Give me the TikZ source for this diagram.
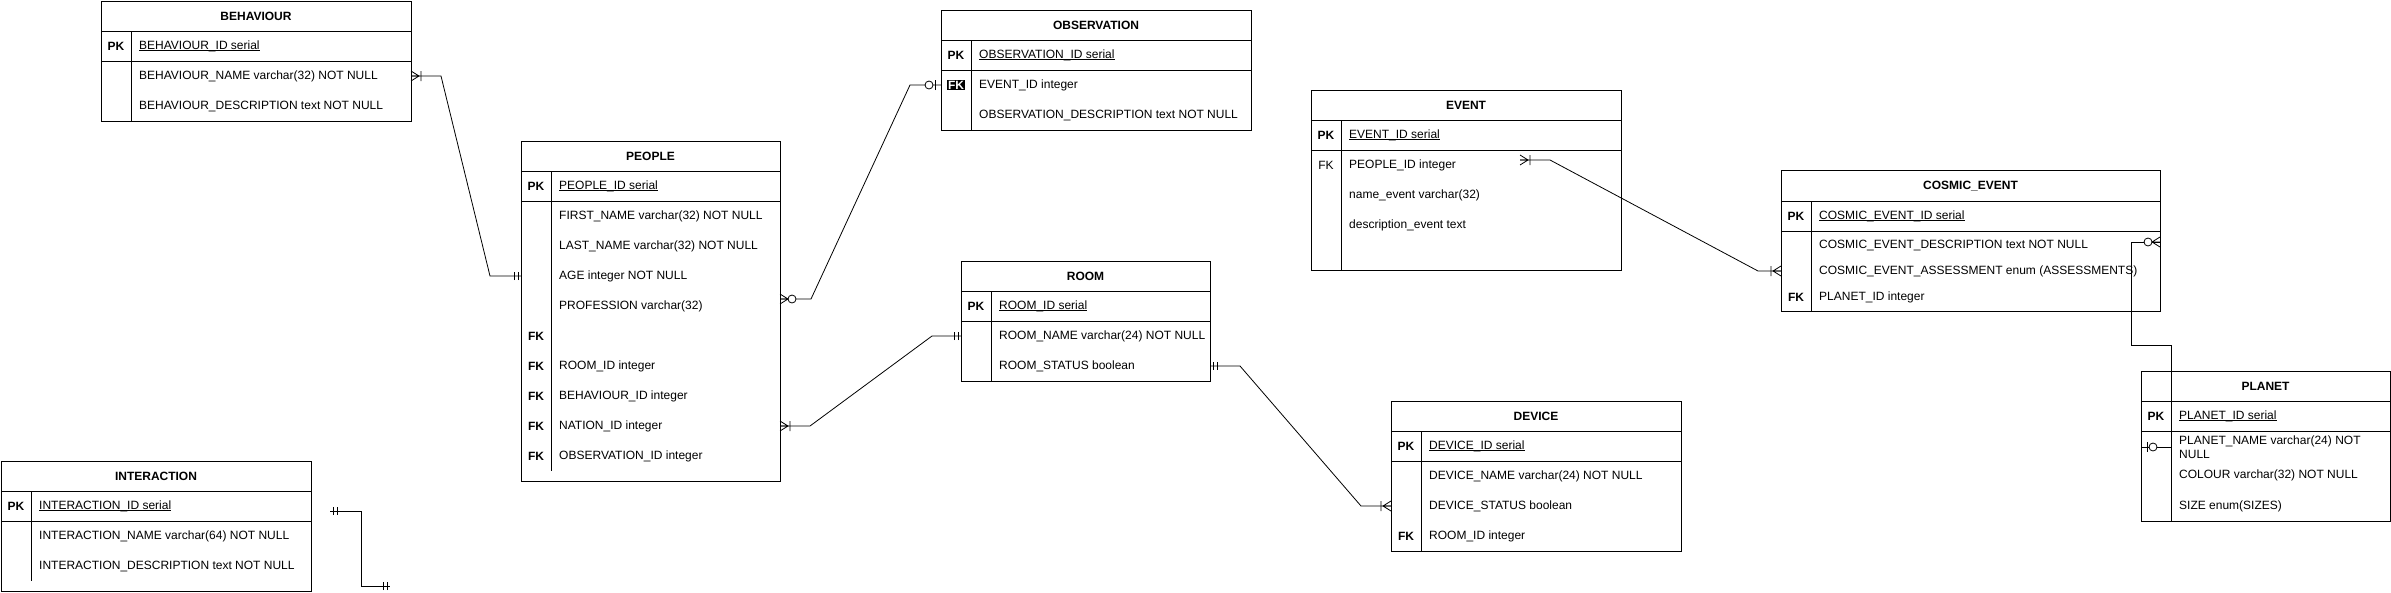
\documentclass[tikz,border=0pt]{standalone}
\usepackage{fontspec}
\setmainfont{Liberation Sans}
\usepackage{tikz}
\usepackage{xcolor}
\usetikzlibrary{arrows.meta,positioning,calc}
\definecolor{ink}{HTML}{000000}
\definecolor{paper}{HTML}{FFFFFF}
\newsavebox{\pkbox}
\newcommand{\pkline}[1]{\sbox{\pkbox}{#1}\rlap{\rule[-2pt]{\wd\pkbox}{0.8pt}}\usebox{\pkbox}}
\tikzset{
  tblbox/.style={draw=ink, line width=1pt, inner sep=0pt, outer sep=0pt, anchor=north west},
  tblline/.style={draw=ink, line width=1pt},
  ttl/.style={font=\fontsize{12}{14}\selectfont\bfseries, inner sep=0pt},
  keylbl/.style={font=\fontsize{12}{14}\selectfont\bfseries, inner sep=0pt},
  fld/.style={font=\fontsize{12}{13.5}\selectfont, anchor=west, inner sep=0pt, align=left},
  rel/.style={draw=ink, line width=0.8pt},
  erone/.pic={\draw[rel] (3,-4) -- (3,4) (7,-4) -- (7,4);},
  eronemany/.pic={\draw[rel] (0,-5) -- (8,0) -- (0,5) (0,0) -- (8,0) (10,-5) -- (10,5);},
  erzeromany/.pic={\draw[rel] (0,-5) -- (8,0) -- (0,5) (0,0) -- (8,0);
                   \draw[rel, fill=paper] (12,0) circle[radius=4];},
  erzeroone/.pic={\draw[rel] (6,-5) -- (6,5);
                  \draw[rel, fill=paper] (12,0) circle[radius=4];}
}

\begin{document}
\begin{tikzpicture}[x=1pt,y=-1pt]
  \path[use as bounding box, fill=paper] (0,0) rectangle (2391,592);

  % BEHAVIOUR
  \node[tblbox, minimum width=310, minimum height=120] (behav) at (101,1) {};
  \draw[tblline] (101,31) -- (411,31) (101,61) -- (411,61) (131,31) -- (131,121);
  \node[ttl] (behav-ttl) at (256,16) {BEHAVIOUR};
  \node[keylbl] (behav-pk) at (116,46) {PK};
  \node[fld] (behav-id) at (139,46) {\pkline{BEHAVIOUR\_ID serial}};
  \node[fld] (behav-name) at (139,76) {BEHAVIOUR\_NAME varchar(32) NOT NULL};
  \node[fld] (behav-desc) at (139,106) {BEHAVIOUR\_DESCRIPTION text NOT NULL};

  % OBSERVATION
  \node[tblbox, minimum width=310, minimum height=120] (obs) at (941,10) {};
  \draw[tblline] (941,40) -- (1251,40) (941,70) -- (1251,70) (971,40) -- (971,130);
  \node[ttl] (obs-ttl) at (1096,25) {OBSERVATION};
  \node[keylbl] (obs-pk) at (956,55) {PK};
  \node[keylbl, fill=ink, text=paper, inner sep=1pt] (obs-fk) at (956,85) {FK};
  \node[fld] (obs-id) at (979,55) {\pkline{OBSERVATION\_ID serial}};
  \node[fld] (obs-event) at (979,85) {EVENT\_ID integer};
  \node[fld] (obs-desc) at (979,115) {OBSERVATION\_DESCRIPTION text NOT NULL};

  % PEOPLE
  \node[tblbox, minimum width=259, minimum height=340] (people) at (521,141) {};
  \draw[tblline] (521,171) -- (780,171) (521,201) -- (780,201) (551,171) -- (551,471);
  \node[ttl] (people-ttl) at (650.5,156) {PEOPLE};
  \node[keylbl] (people-pk) at (536,186) {PK};
  \node[fld] (people-id) at (559,186) {\pkline{PEOPLE\_ID serial}};
  \node[fld] (people-first) at (559,216) {FIRST\_NAME varchar(32) NOT NULL};
  \node[fld] (people-last) at (559,246) {LAST\_NAME varchar(32) NOT NULL};
  \node[fld] (people-age) at (559,276) {AGE integer NOT NULL};
  \node[fld] (people-prof) at (559,306) {PROFESSION varchar(32)};
  \node[keylbl] (people-fk1) at (536,336) {FK};
  \node[keylbl] (people-fk2) at (536,366) {FK};
  \node[fld] (people-room) at (559,366) {ROOM\_ID integer};
  \node[keylbl] (people-fk3) at (536,396) {FK};
  \node[fld] (people-behav) at (559,396) {BEHAVIOUR\_ID integer};
  \node[keylbl] (people-fk4) at (536,426) {FK};
  \node[fld] (people-nation) at (559,426) {NATION\_ID integer};
  \node[keylbl] (people-fk5) at (536,456) {FK};
  \node[fld] (people-obs) at (559,456) {OBSERVATION\_ID integer};

  % ROOM
  \node[tblbox, minimum width=249, minimum height=120] (room) at (961,261) {};
  \draw[tblline] (961,291) -- (1210,291) (961,321) -- (1210,321) (991,291) -- (991,381);
  \node[ttl] (room-ttl) at (1085.5,276) {ROOM};
  \node[keylbl] (room-pk) at (976,306) {PK};
  \node[fld] (room-id) at (999,306) {\pkline{ROOM\_ID serial}};
  \node[fld] (room-name) at (999,336) {ROOM\_NAME varchar(24) NOT NULL};
  \node[fld] (room-status) at (999,366) {ROOM\_STATUS boolean};

  % EVENT
  \node[tblbox, minimum width=310, minimum height=180] (event) at (1311,90) {};
  \draw[tblline] (1311,120) -- (1621,120) (1311,150) -- (1621,150) (1341,120) -- (1341,270);
  \node[ttl] (event-ttl) at (1466,105) {EVENT};
  \node[keylbl] (event-pk) at (1326,135) {PK};
  \node[fld] (event-id) at (1349,135) {\pkline{EVENT\_ID serial}};
  \node[font=\fontsize{12}{14}\selectfont, inner sep=0pt] (event-fk) at (1326,165) {FK};
  \node[fld] (event-people) at (1349,165) {PEOPLE\_ID integer};
  \node[fld] (event-name) at (1349,195) {name\_event varchar(32)};
  \node[fld] (event-desc) at (1349,225) {description\_event text};

  % COSMIC_EVENT
  \node[tblbox, minimum width=379, minimum height=141] (cosmic) at (1781,170) {};
  \draw[tblline] (1781,201) -- (2160,201) (1781,231) -- (2160,231) (1811,201) -- (1811,311);
  \node[ttl] (cosmic-ttl) at (1970.5,186) {COSMIC\_EVENT};
  \node[keylbl] (cosmic-pk) at (1796,216) {PK};
  \node[fld] (cosmic-id) at (1819,216) {\pkline{COSMIC\_EVENT\_ID serial}};
  \node[fld] (cosmic-desc) at (1819,245) {COSMIC\_EVENT\_DESCRIPTION text NOT NULL};
  \node[fld] (cosmic-assess) at (1819,271) {COSMIC\_EVENT\_ASSESSMENT enum (ASSESSMENTS)};
  \node[keylbl] (cosmic-fk) at (1796,297) {FK};
  \node[fld] (cosmic-planet) at (1819,297) {PLANET\_ID integer};

  % DEVICE
  \node[tblbox, minimum width=290, minimum height=150] (device) at (1391,401) {};
  \draw[tblline] (1391,431) -- (1681,431) (1391,461) -- (1681,461) (1421,431) -- (1421,551);
  \node[ttl] (device-ttl) at (1536,416) {DEVICE};
  \node[keylbl] (device-pk) at (1406,446) {PK};
  \node[fld] (device-id) at (1429,446) {\pkline{DEVICE\_ID serial}};
  \node[fld] (device-name) at (1429,476) {DEVICE\_NAME varchar(24) NOT NULL};
  \node[fld] (device-status) at (1429,506) {DEVICE\_STATUS boolean};
  \node[keylbl] (device-fk) at (1406,536) {FK};
  \node[fld] (device-room) at (1429,536) {ROOM\_ID integer};

  % PLANET
  \node[tblbox, minimum width=249, minimum height=150] (planet) at (2141,371) {};
  \draw[tblline] (2141,401) -- (2390,401) (2141,431) -- (2390,431) (2171,401) -- (2171,521);
  \node[ttl] (planet-ttl) at (2265.5,386) {PLANET};
  \node[keylbl] (planet-pk) at (2156,416) {PK};
  \node[fld] (planet-id) at (2179,416) {\pkline{PLANET\_ID serial}};
  \node[fld] (planet-name) at (2179,447) {PLANET\_NAME varchar(24) NOT\\NULL};
  \node[fld] (planet-colour) at (2179,475) {COLOUR varchar(32) NOT NULL};
  \node[fld] (planet-size) at (2179,506) {SIZE enum(SIZES)};

  % INTERACTION
  \node[tblbox, minimum width=310, minimum height=130] (inter) at (1,461) {};
  \draw[tblline] (1,491) -- (311,491) (1,521) -- (311,521) (31,491) -- (31,581);
  \node[ttl] (inter-ttl) at (156,476) {INTERACTION};
  \node[keylbl] (inter-pk) at (16,506) {PK};
  \node[fld] (inter-id) at (39,506) {\pkline{INTERACTION\_ID serial}};
  \node[fld] (inter-name) at (39,536) {INTERACTION\_NAME varchar(64) NOT NULL};
  \node[fld] (inter-desc) at (39,566) {INTERACTION\_DESCRIPTION text NOT NULL};

  % relations
  \coordinate (event-link) at (1520,160);
  \coordinate (loose-a) at (330,511);
  \coordinate (loose-b) at (390,586);

  \draw[rel] (behav.east |- behav-name) -- ++(30,0)
    -- ([xshift=-31pt]people.west |- people-age) -- (people.west |- people-age);
  \draw[rel] ([yshift=7pt]people.east |- people-prof) -- ++(31,0)
    -- ([xshift=-31pt]obs.west |- obs-event) -- (obs.west |- obs-event);
  \draw[rel] (people.east |- people-nation) -- ++(30,0)
    -- ([xshift=-29pt]room.west |- room-name) -- (room.west |- room-name);
  \draw[rel] (room.east |- room-status) -- ++(30,0)
    -- ([xshift=-30pt]device.west |- device-status) -- (device.west |- device-status);
  \draw[rel] (event-link) -- ++(30,0)
    -- ([xshift=-23pt]cosmic.west |- cosmic-assess) -- (cosmic.west |- cosmic-assess);
  \draw[rel] ([yshift=3pt]cosmic.east |- cosmic-desc) -- ++(-29,0) -- ++(0,103)
    -- ++(40,0) |- (planet.west |- planet-name);
  \draw[rel] (loose-a) -- ++(31,0) |- (loose-b);

  % ends
  \pic at (behav.east |- behav-name) {eronemany};
  \pic[rotate=180] at (people.west |- people-age) {erone};
  \pic at ([yshift=7pt]people.east |- people-prof) {erzeromany};
  \pic[rotate=180] at (obs.west |- obs-event) {erzeroone};
  \pic at (people.east |- people-nation) {eronemany};
  \pic[rotate=180] at (room.west |- room-name) {erone};
  \pic at (room.east |- room-status) {erone};
  \pic[rotate=180] at (device.west |- device-status) {eronemany};
  \pic at (event-link) {eronemany};
  \pic[rotate=180] at (cosmic.west |- cosmic-assess) {eronemany};
  \pic[rotate=180] at ([yshift=3pt]cosmic.east |- cosmic-desc) {erzeromany};
  \pic at (planet.west |- planet-name) {erzeroone};
  \pic at (loose-a) {erone};
  \pic[rotate=180] at (loose-b) {erone};
\end{tikzpicture}
\end{document}
